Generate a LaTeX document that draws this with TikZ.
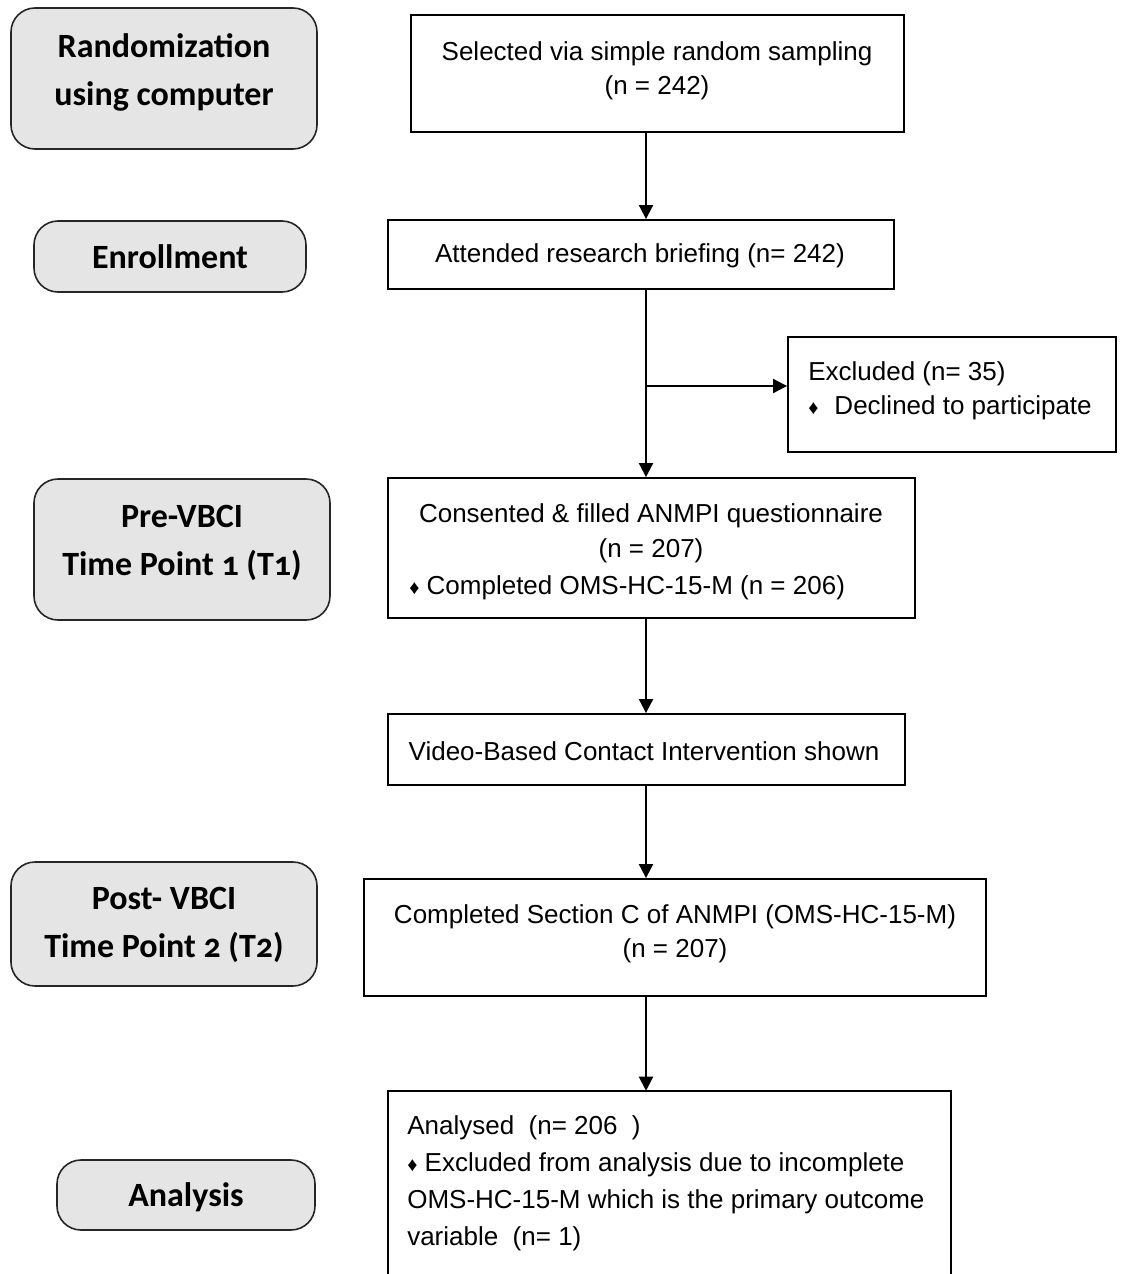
\documentclass[tikz,border=0pt]{standalone}
\usepackage{fontspec}
\setmainfont{Liberation Sans}
\newfontfamily\lblfont[Numbers=OldStyle]{Carlito}
\usetikzlibrary{arrows.meta,calc}
\newcommand{\dmd}{{\fontsize{15}{15}\selectfont ♦}}
\begin{document}
\begin{tikzpicture}[x=0.75pt,y=-0.75pt,
  lblbox/.style={draw=black!85, line width=1.2pt, fill=black!10, rounded corners=18pt, inner sep=0pt},
  lbltext/.style={align=center, inner sep=0pt, font=\lblfont\bfseries\fontsize{25.5}{36}\selectfont},
  flowbox/.style={draw, line width=1.4pt, inner sep=0pt, fill=white},
  flowtext/.style={inner sep=0pt, font=\fontsize{19.5}{25.5}\selectfont},
  arr/.style={line width=1.5pt, -{Triangle[length=10.5pt,width=10.5pt]}}]
\useasboundingbox (0,0) rectangle (1121,1274);

% left label boxes
\node[lblbox, minimum width=229.5pt, minimum height=105.75pt] (L1) at (164,78.5) {};
\node[lbltext] (L1t) at (164,72.5) {Randomization\\using computer};
\node[lblbox, minimum width=204pt, minimum height=53.25pt] (L2) at (170,256.5) {};
\node[lbltext] (L2t) at (170,257) {Enrollment};
\node[lblbox, minimum width=222pt, minimum height=105.75pt] (L3) at (182,549.5) {};
\node[lbltext] (L3t) at (182,542.5) {Pre-VBCI\\Time Point 1 (T1)};
\node[lblbox, minimum width=229.5pt, minimum height=93pt] (L4) at (164,924) {};
\node[lbltext] (L4t) at (164,925) {Post- VBCI\\Time Point 2 (T2)};
\node[lblbox, minimum width=193.5pt, minimum height=52.5pt] (L5) at (186,1195) {};
\node[lbltext] (L5t) at (186,1197) {Analysis};

% flow boxes
\node[flowbox, minimum width=369.75pt, minimum height=87.75pt] (A) at (657.5,73.5) {};
\node[flowtext, align=center] (At) at (657,71) {Selected via simple random sampling\\(n = 242)};

\node[flowbox, minimum width=379.5pt, minimum height=51.75pt] (B) at (641,254.5) {};
\node[flowtext] (Bt) at (640,256) {Attended research briefing (n= 242)};

\node[flowbox, minimum width=246pt, minimum height=86.25pt] (C) at (952,394.5) {};
\node[flowtext, align=left, anchor=north west] (Ct) at (808,361.5) {Excluded (n= 35)\\\dmd\hspace{12pt}Declined to participate};

\node[flowbox, minimum width=395.25pt, minimum height=105pt] (D) at (651.5,548) {};
\node[flowtext, align=center, font=\fontsize{19.5}{26.5}\selectfont] (Dt) at (651,533.5) {Consented \& filled ANMPI questionnaire\\(n = 207)};
\node[flowtext, anchor=west] (Dt2) at (409,587.5) {\dmd\ Completed OMS-HC-15-M (n = 206)};

\node[flowbox, minimum width=387.75pt, minimum height=53.25pt] (E) at (646.5,749.5) {};
\node[flowtext] (Et) at (644,751.5) {Video-Based Contact Intervention shown};

\node[flowbox, minimum width=466.5pt, minimum height=87.75pt] (F) at (675,937.5) {};
\node[flowtext, align=center] (Ft) at (675,934) {Completed Section C of ANMPI (OMS-HC-15-M)\\(n = 207)};

\node[minimum width=422.25pt, minimum height=137.25pt, inner sep=0pt] (G) at (669.5,1182.5) {};
\draw[line width=1.4pt] (G.south west) -- (G.north west) -- (G.north east) -- (G.south east);
\node[flowtext, align=left, anchor=north west, font=\fontsize{19.5}{27.7}\selectfont] (Gt) at (407,1115.5) {Analysed\ \ (n= 206\ \ )\\\dmd\ Excluded from analysis due to incomplete\\OMS-HC-15-M which is the primary outcome\\variable\ \ (n= 1)};

% connectors
\coordinate (t) at (646,0);
\coordinate (br) at (646,386);
\draw[arr] (A.south -| t) -- (B.north -| t);
\draw[arr] (B.south -| t) -- (D.north -| t);
\draw[arr] (br) -- (C.west |- br);
\draw[arr] (D.south -| t) -- (E.north -| t);
\draw[arr] (E.south -| t) -- (F.north -| t);
\draw[arr] (F.south -| t) -- (G.north -| t);
\end{tikzpicture}
\end{document}
